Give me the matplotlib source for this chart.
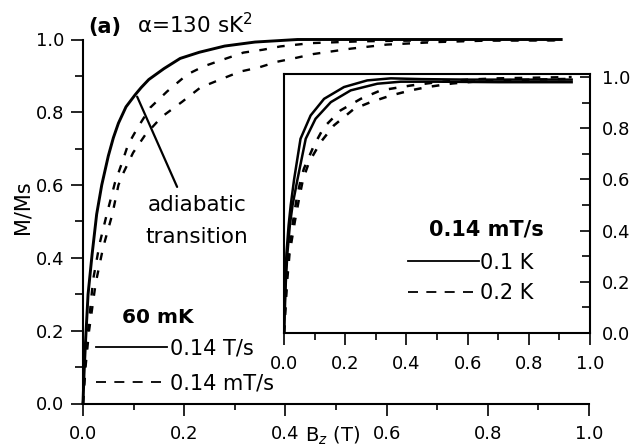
import matplotlib
matplotlib.use("Agg")
import matplotlib.pyplot as plt
from matplotlib.lines import Line2D
from matplotlib.ticker import MultipleLocator

plt.rcParams['font.family'] = ['DejaVu Sans']
plt.rcParams['lines.scale_dashes'] = False

# ---- main panel: 60 mK, two sweep rates ----
b_fast = [0, 0.002, 0.005, 0.010, 0.018, 0.027, 0.037, 0.050, 0.060, 0.070, 0.085,
          0.103, 0.115, 0.130, 0.160, 0.192, 0.230, 0.280, 0.340, 0.424, 0.600, 0.800, 0.945]
m_fast = [0, 0.08, 0.17, 0.30, 0.41, 0.52, 0.60, 0.68, 0.73, 0.77, 0.815,
          0.848, 0.868, 0.89, 0.92, 0.948, 0.965, 0.982, 0.993, 1.0, 1.0, 1.0, 1.0]

b_slow1 = [0, 0.004, 0.010, 0.020, 0.033, 0.047, 0.063, 0.077, 0.089, 0.109, 0.133,
           0.166, 0.206, 0.238, 0.277, 0.317, 0.356, 0.390, 0.450, 0.550, 0.700, 0.945]
m_slow1 = [0, 0.10, 0.20, 0.34, 0.44, 0.52, 0.606, 0.661, 0.711, 0.76, 0.813,
           0.857, 0.904, 0.926, 0.945, 0.964, 0.972, 0.981, 0.990, 0.995, 0.998, 0.998]

b_slow2 = [0, 0.005, 0.012, 0.025, 0.040, 0.058, 0.070, 0.080, 0.099, 0.123, 0.156, 0.196,
           0.232, 0.271, 0.311, 0.347, 0.384, 0.416, 0.455, 0.530, 0.600, 0.700, 0.800, 0.945]
m_slow2 = [0, 0.10, 0.20, 0.33, 0.43, 0.52, 0.60, 0.634, 0.689, 0.738, 0.788, 0.829,
           0.868, 0.890, 0.912, 0.923, 0.939, 0.948, 0.960, 0.975, 0.986, 0.993, 0.997, 0.998]

# ---- inset: 0.14 mT/s at two temperatures ----
b_01a = [0, 0.002, 0.004, 0.008, 0.015, 0.022, 0.033, 0.054, 0.087, 0.131, 0.196,
         0.272, 0.349, 0.450, 0.600, 0.800, 0.940]
m_01a = [0, 0.10, 0.20, 0.31, 0.42, 0.50, 0.60, 0.759, 0.850, 0.915, 0.961,
         0.987, 0.995, 0.992, 0.990, 0.990, 0.990]

b_01b = [0, 0.003, 0.006, 0.011, 0.019, 0.028, 0.044, 0.071, 0.103, 0.153, 0.218,
         0.305, 0.381, 0.500, 0.700, 0.940]
m_01b = [0, 0.10, 0.20, 0.31, 0.42, 0.50, 0.60, 0.759, 0.837, 0.902, 0.948,
         0.974, 0.982, 0.982, 0.980, 0.980]

b_02a = [0, 0.004, 0.008, 0.015, 0.030, 0.042, 0.055, 0.065, 0.098, 0.131, 0.185,
         0.251, 0.316, 0.414, 0.500, 0.600, 0.700, 0.940]
m_02a = [0, 0.10, 0.20, 0.31, 0.44, 0.53, 0.60, 0.642, 0.733, 0.805, 0.870,
         0.915, 0.948, 0.967, 0.980, 0.990, 0.995, 1.0]

b_02b = [0, 0.005, 0.010, 0.018, 0.036, 0.050, 0.062, 0.082, 0.120, 0.163, 0.229,
         0.283, 0.349, 0.414, 0.468, 0.550, 0.650, 0.800, 0.940]
m_02b = [0, 0.10, 0.20, 0.31, 0.44, 0.53, 0.60, 0.668, 0.746, 0.811, 0.876,
         0.902, 0.928, 0.948, 0.961, 0.975, 0.985, 0.990, 0.993]

ticks = [0.0, 0.2, 0.4, 0.6, 0.8, 1.0]
tick_labels = ['0.0', '0.2', '0.4', '0.6', '0.8', '1.0']

W, H = 630, 446
fig = plt.figure(figsize=(W / 100, H / 100), dpi=100)

ax = fig.add_axes([83 / W, 1 - 403.5 / H, 506 / W, 364 / H])
curve_dash = (0, (5.5, 7.5))
ax.plot(b_fast, m_fast, color='k', lw=2.1, clip_on=False, zorder=3)
ax.plot(b_slow1, m_slow1, color='k', lw=1.7, ls=curve_dash, clip_on=False, zorder=3)
ax.plot(b_slow2, m_slow2, color='k', lw=1.7, ls=curve_dash, clip_on=False, zorder=3)

ax.set_xlim(0, 1.0)
ax.set_ylim(0, 1.0)
for s in ('top', 'right'):
    ax.spines[s].set_visible(False)
for s in ('left', 'bottom'):
    ax.spines[s].set_linewidth(1.5)
ax.set_xticks(ticks)
ax.set_xticklabels(tick_labels)
ax.set_yticks(ticks)
ax.set_yticklabels(tick_labels)
ax.xaxis.set_minor_locator(MultipleLocator(0.1))
ax.yaxis.set_minor_locator(MultipleLocator(0.1))
ax.tick_params(axis='x', which='major', direction='out', length=8.5, width=1.2,
               labelsize=13, pad=7)
ax.tick_params(axis='x', which='minor', direction='out', length=4, width=1.2)
ax.tick_params(axis='y', which='major', direction='out', length=8.5, width=1.2,
               labelsize=13, pad=5)
ax.tick_params(axis='y', which='minor', direction='out', length=5.5, width=1.2)

# pointer to the adiabatic transition
ax.annotate('', xy=(0.107, 0.843), xytext=(0.186, 0.595),
            arrowprops=dict(arrowstyle='-', lw=1.6, color='k', shrinkA=0, shrinkB=0))
ax.text(0.226, 0.545, 'adiabatic', ha='center', va='center', fontsize=15.5)
ax.text(0.224, 0.457, 'transition', ha='center', va='center', fontsize=15.5)

ax.text(0.147, 0.235, '60 mK', ha='center', va='center', fontsize=14.5,
        fontweight='bold')
main_handles = [Line2D([], [], color='k', lw=1.3),
                Line2D([], [], color='k', lw=1.3, ls=(0, (7.2, 6)))]
ax.legend(main_handles, ['0.14 T/s', '0.14 mT/s'], loc='upper left',
          bbox_to_anchor=(0.026, 0.178), frameon=False, fontsize=15,
          borderpad=0, borderaxespad=0, handlelength=3.4,
          handletextpad=0.15, labelspacing=0.7)

# ---- inset ----
axi = fig.add_axes([284 / W, 1 - 333 / H, 306 / W, 259 / H])
axi.set_facecolor('white')
axi.plot(b_01a, m_01a, color='k', lw=1.8)
axi.plot(b_01b, m_01b, color='k', lw=1.8)
axi.plot(b_02a, m_02a, color='k', lw=1.8, ls=curve_dash)
axi.plot(b_02b, m_02b, color='k', lw=1.8, ls=curve_dash)
axi.set_xlim(0, 1.0)
axi.set_ylim(0, 1.012)
for s in axi.spines.values():
    s.set_linewidth(1.5)
axi.set_xticks(ticks)
axi.set_xticklabels(tick_labels)
axi.set_yticks(ticks)
axi.set_yticklabels(tick_labels)
axi.xaxis.set_minor_locator(MultipleLocator(0.1))
axi.yaxis.set_minor_locator(MultipleLocator(0.1))
axi.yaxis.tick_right()
axi.tick_params(axis='x', which='major', direction='out', length=8.5, width=1.2,
                labelsize=13, pad=7)
axi.tick_params(axis='x', which='minor', direction='out', length=5, width=1.2)
axi.tick_params(axis='y', which='major', direction='in', length=7, width=1.2,
                labelsize=13, pad=8.5, left=False, right=True)
axi.tick_params(axis='y', which='minor', direction='in', length=5.5, width=1.2,
                left=False, right=True)

axi.text(0.662, 0.399, '0.14 mT/s', ha='center', va='center', fontsize=15,
         fontweight='bold', transform=axi.transAxes)
inset_handles = [Line2D([], [], color='k', lw=1.3),
                 Line2D([], [], color='k', lw=1.3, ls=(0, (7.2, 6)))]
axi.legend(inset_handles, ['0.1 K', '0.2 K'], loc='upper left',
           bbox_to_anchor=(0.405, 0.31), frameon=False, fontsize=15,
           borderpad=0, borderaxespad=0, handlelength=3.4,
           handletextpad=0.05, labelspacing=0.5)

# ---- titles and axis labels ----
fig.text(88 / W, 1 - 33 / H, '(a)', fontsize=15, fontweight='bold', va='baseline')
fig.text(137 / W, 1 - 33 / H, 'α=130 sK$^2$', fontsize=15.5, va='baseline')
fig.text(22 / W, 1 - 207 / H, 'M/Ms', rotation=90, fontsize=15,
         ha='center', va='center')
fig.text(305 / W, 1 - 436 / H, 'B$_z$ (T)', fontsize=14, ha='left', va='center')

fig.savefig('out.png', dpi=100)
